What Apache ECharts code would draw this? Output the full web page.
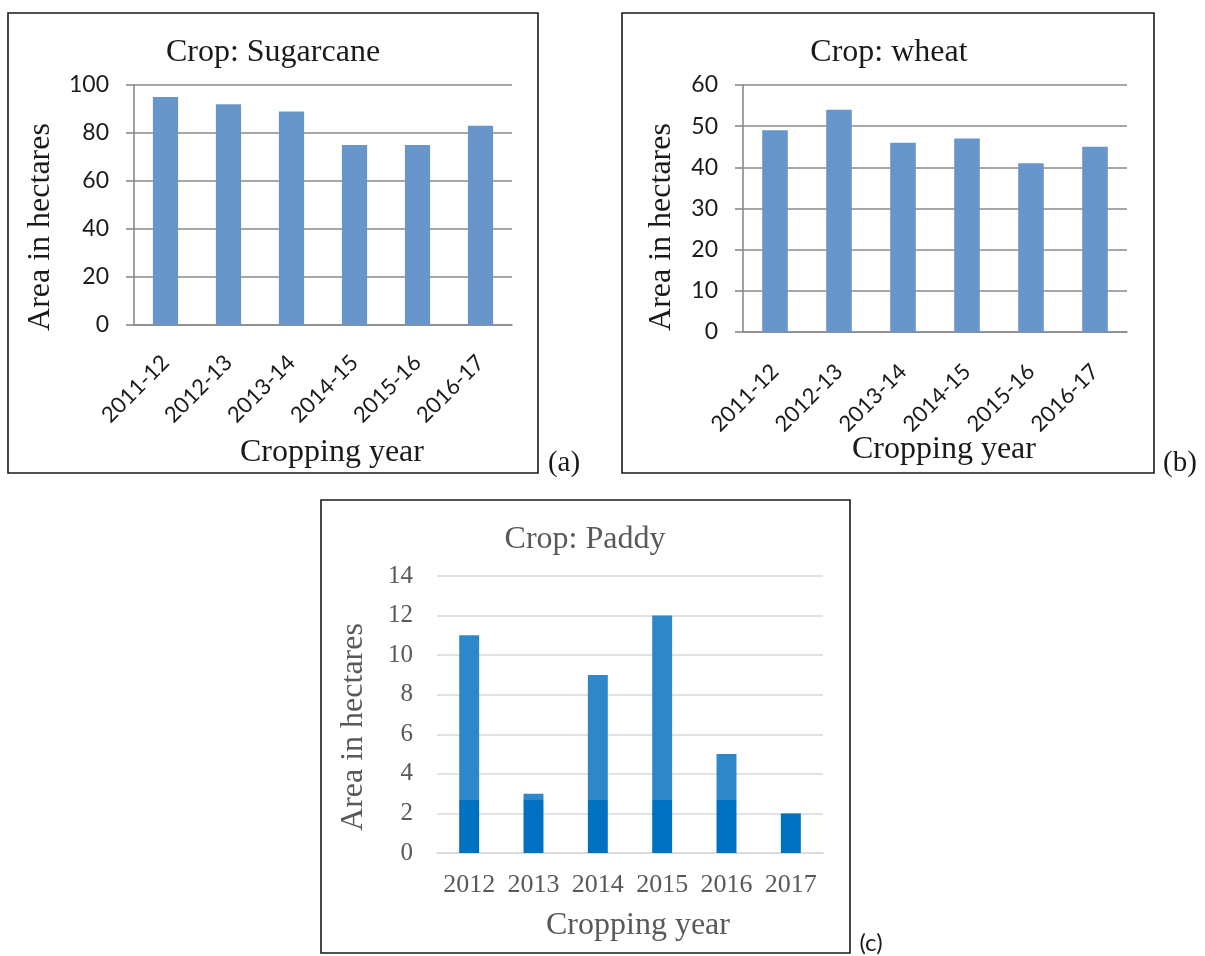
<!DOCTYPE html>
<html>
<head>
<meta charset="utf-8">
<title>Crop area by year</title>
<script src="https://cdn.jsdelivr.net/npm/echarts@6.0.0/dist/echarts.min.js"></script>
<style>
  html, body { margin: 0; padding: 0; background: #fff; }
  #main { width: 1205px; height: 956px; }
</style>
</head>
<body>
<div id="main"></div>
<script>
  // cropping years and areas (hectares)
  var seasonYears = ['2011-12', '2012-13', '2013-14', '2014-15', '2015-16', '2016-17'];
  var sugarcaneArea = [95, 92, 89, 75, 75, 83];
  var wheatArea = [49, 54, 46, 47, 41, 45];
  var paddyYears = ['2012', '2013', '2014', '2015', '2016', '2017'];
  var paddyArea = [11, 3, 9, 12, 5, 2];

  var serif = '"Liberation Serif", "Times New Roman", serif';
  var sans = 'Lato, "Open Sans", sans-serif';
  var dark = '#1a1a1a';
  var grey = '#595959';

  var chart = echarts.init(document.getElementById('main'));

  function box(x1, y1, x2, y2) {
    return {
      type: 'rect', silent: true, z: 1,
      shape: { x: x1, y: y1, width: x2 - x1, height: y2 - y1 },
      style: { fill: 'none', stroke: '#1a1a1a', lineWidth: 1.6 }
    };
  }
  function txt(s, x, y, size, color, fam, rot) {
    return {
      type: 'text', silent: true, x: x, y: y, rotation: rot || 0, z: 10,
      style: { text: s, font: size + 'px ' + fam, fill: color, align: 'center', verticalAlign: 'middle' }
    };
  }

  // value axis for the top two charts (Excel 2007 look)
  function topValueAxis(idx, max, step) {
    return {
      type: 'value', gridIndex: idx, min: 0, max: max, interval: step,
      axisLine: { show: true, lineStyle: { color: '#8a8a8a', width: 1.6 } },
      axisTick: { show: true, length: 8, lineStyle: { color: '#8a8a8a', width: 1.6 } },
      splitLine: { show: true, lineStyle: { color: '#8a8a8a', width: 1.6 } },
      axisLabel: { color: dark, fontFamily: sans, fontSize: 23, margin: 25 }
    };
  }
  function topCatAxis(idx, gap) {
    return {
      type: 'category', gridIndex: idx, data: seasonYears,
      axisLine: { show: true, lineStyle: { color: '#8a8a8a', width: 1.6 } },
      axisTick: { show: false },
      axisLabel: {
        interval: 0, rotate: 45, color: dark, fontFamily: sans, fontSize: 22,
        margin: gap, align: 'right', verticalAlign: 'middle'
      }
    };
  }

  var option = {
    animation: false,
    backgroundColor: '#fff',
    grid: [
      { left: 134, top: 85, width: 378, height: 240 },
      { left: 743, top: 85, width: 384, height: 247 },
      { left: 437, top: 576, width: 386, height: 277 }
    ],
    xAxis: [
      topCatAxis(0, 34),
      topCatAxis(1, 36),
      {
        type: 'category', gridIndex: 2, data: paddyYears,
        axisLine: { show: true, lineStyle: { color: '#d9d9d9', width: 1.6 } },
        axisTick: { show: false },
        axisLabel: { interval: 0, color: grey, fontFamily: serif, fontSize: 26, margin: 19 }
      }
    ],
    yAxis: [
      topValueAxis(0, 100, 20),
      topValueAxis(1, 60, 10),
      {
        type: 'value', gridIndex: 2, min: 0, max: 14, interval: 2,
        axisLine: { show: false },
        axisTick: { show: false },
        splitLine: { show: true, lineStyle: { color: '#d9d9d9', width: 1.6 } },
        axisLabel: { color: grey, fontFamily: serif, fontSize: 25, margin: 24 }
      }
    ],
    series: [
      {
        name: 'Sugarcane', type: 'bar', xAxisIndex: 0, yAxisIndex: 0,
        data: sugarcaneArea, barWidth: '40%',
        itemStyle: { color: '#6896ca' }
      },
      {
        name: 'wheat', type: 'bar', xAxisIndex: 1, yAxisIndex: 1,
        data: wheatArea, barWidth: '40%',
        itemStyle: { color: '#6896ca' }
      },
      {
        name: 'Paddy', type: 'bar', xAxisIndex: 2, yAxisIndex: 2,
        data: paddyArea, barWidth: '31%',
        itemStyle: {
          // lighter upper part like the scanned figure
          color: {
            type: 'linear', global: true, x: 0, y: 747, x2: 0, y2: 853,
            colorStops: [
              { offset: 0, color: '#2e87c9' },
              { offset: 0.5, color: '#2e87c9' },
              { offset: 0.5, color: '#0070c0' },
              { offset: 1, color: '#0070c0' }
            ]
          }
        }
      }
    ],
    graphic: [
      box(8, 13, 538, 473),
      box(622, 13, 1154, 473),
      box(321, 500, 850, 953),

      txt('Crop: Sugarcane', 273, 53, 32, dark, serif),
      txt('Crop: wheat', 889, 53, 32, dark, serif),
      txt('Crop: Paddy', 585, 540, 32, grey, serif),

      txt('Area in hectares', 41, 227, 32, dark, serif, Math.PI / 2),
      txt('Area in hectares', 662, 227, 32, dark, serif, Math.PI / 2),
      txt('Area in hectares', 354, 727, 32, grey, serif, Math.PI / 2),

      txt('Cropping year', 332, 453, 32, dark, serif),
      txt('Cropping year', 944, 450, 32, dark, serif),
      txt('Cropping year', 638, 926, 32, grey, serif),

      txt('(a)', 564, 463, 29, dark, serif),
      txt('(b)', 1180, 463, 29, dark, serif),
      txt('(c)', 871, 943, 24, dark, sans)
    ]
  };

  chart.setOption(option);
</script>
</body>
</html>
